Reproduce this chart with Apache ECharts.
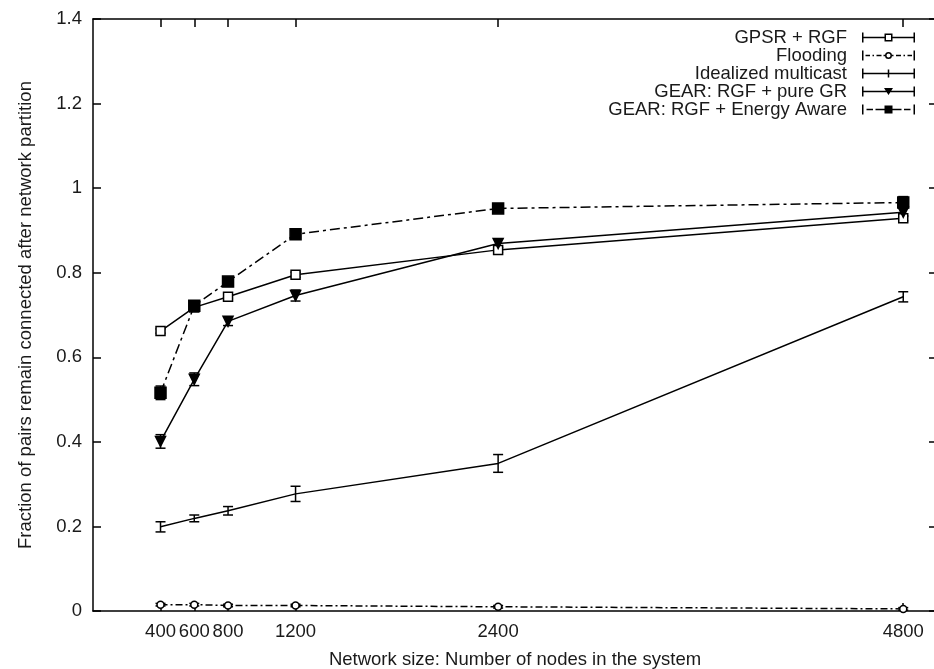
<!DOCTYPE html>
<html><head><meta charset="utf-8">
<script src="https://cdn.jsdelivr.net/npm/echarts@6/dist/echarts.min.js"></script>
<style>html,body{margin:0;padding:0;background:#fff}#c{width:934px;height:669px}</style>
</head><body><div id="c"></div>
<script>
// ---- data ----
const nodeCounts = [400, 600, 800, 1200, 2400, 4800];
const xTickValues = [400, 600, 800, 1200, 2400, 4800];
const seriesNames = ['GPSR + RGF', 'Flooding', 'Idealized multicast', 'GEAR: RGF + pure GR', 'GEAR: RGF + Energy Aware'];
const gpsrRgf        = [0.662, 0.718, 0.743, 0.795, 0.854, 0.929];
const gpsrRgfErr     = [0.005, 0.005, 0.005, 0.006, 0.006, 0.006];
const flooding       = [0.015, 0.015, 0.013, 0.013, 0.010, 0.005];
const floodingErr    = [0.003, 0.003, 0.003, 0.003, 0.003, 0.003];
const idealized      = [0.199, 0.219, 0.237, 0.277, 0.349, 0.743];
const idealizedErr   = [0.012, 0.008, 0.010, 0.018, 0.021, 0.012];
const pureGR         = [0.401, 0.548, 0.685, 0.746, 0.869, 0.943];
const pureGRErr      = [0.016, 0.015, 0.010, 0.013, 0.010, 0.010];
const energyAware    = [0.516, 0.722, 0.779, 0.891, 0.952, 0.966];
const energyAwareErr = [0.016, 0.010, 0.010, 0.008, 0.006, 0.014];
const xTitle = 'Network size: Number of nodes in the system';
const yTitle = 'Fraction of pairs remain connected after network partition';

// ---- styling helpers ----
const FONT = 'Liberation Sans, Arial, sans-serif';
const FS = 18.5;
const TXT = '#1a1a1a';

function R(x, y, w, h) { return 'M' + x + ' ' + y + 'L' + (x + w) + ' ' + y + 'L' + (x + w) + ' ' + (y + h) + 'L' + x + ' ' + (y + h) + 'Z'; }
const IW = 53, IH = 10, T = 1.5, CY = 5;
function hl(x1, x2) { return R(x1, CY - T / 2, x2 - x1, T); }
const caps = R(0, 0, T, IH) + R(IW - T, 0, T, IH);
function segs(list) { return list.map(s => hl(s[0], s[1])).join(''); }
const openSq = R(22.5, 1, 8, T) + R(22.5, 9 - T, 8, T) + R(22.5, 1, T, 8) + R(30.5 - T, 1, T, 8);
const ring = 'M30 5A3.5 3.5 0 1 1 23 5A3.5 3.5 0 1 1 30 5ZM28.5 5A2 2 0 1 0 24.5 5A2 2 0 1 0 28.5 5Z';
const icons = [
  'path://' + caps + hl(T, 22.5) + hl(30.5, IW - T) + openSq,
  'path://' + caps + segs([[3.5, 8], [10.5, 12], [14.5, 19.5], [21.5, 23]]) + ring + segs([[30, 31.5], [34, 39], [41.5, 43], [45.5, 50]]),
  'path://' + caps + hl(T, IW - T) + R(26.5 - T / 2, 1, T, 8),
  'path://' + caps + hl(T, IW - T) + 'M22 1.5L31 1.5L26.5 8.5Z',
  'path://' + caps + segs([[4.5, 11], [13.5, 22.5]]) + R(22.5, 1, 8, 8) + segs([[30.5, 39.5], [42, 48.5]])
];

function errorSeries(name, vals, errs) {
  return {
    type: 'custom', name: name + ' (error)', silent: true, z: 3,
    data: nodeCounts.map((x, i) => [x, vals[i] - errs[i], vals[i] + errs[i]]),
    encode: { x: 0, y: [1, 2] },
    renderItem: function (params, api) {
      const x = api.value(0);
      const lo = api.coord([x, api.value(1)]);
      const hi = api.coord([x, api.value(2)]);
      const w = 5;
      const st = { stroke: '#000', lineWidth: 1.5 };
      return { type: 'group', children: [
        { type: 'line', shape: { x1: lo[0], y1: lo[1], x2: hi[0], y2: hi[1] }, style: st },
        { type: 'line', shape: { x1: lo[0] - w, y1: lo[1], x2: lo[0] + w, y2: lo[1] }, style: st },
        { type: 'line', shape: { x1: hi[0] - w, y1: hi[1], x2: hi[0] + w, y2: hi[1] }, style: st }
      ] };
    }
  };
}
function pts(vals) { return nodeCounts.map((x, i) => [x, vals[i]]); }
function lineSeries(name, vals, sym, size, fill, dash, rot) {
  return {
    type: 'line', name: name, data: pts(vals), z: 4,
    symbol: sym, symbolSize: size, symbolRotate: rot || 0, showSymbol: sym !== 'none',
    lineStyle: { color: '#000', width: 1.5, type: dash },
    itemStyle: { color: fill, borderColor: '#000', borderWidth: 1.5 },
    emphasis: { disabled: true }, animation: false
  };
}

const chart = echarts.init(document.getElementById('c'), null, { renderer: 'canvas' });
const axisLine = { show: true, onZero: false, lineStyle: { color: '#000', width: 1.5 } };
const tick = (extra) => Object.assign({ show: true, inside: true, length: 8, lineStyle: { color: '#000', width: 1.5 } }, extra || {});
chart.setOption({
  backgroundColor: '#fff',
  animation: false,
  textStyle: { fontFamily: FONT },
  grid: { left: 93, top: 19, width: 844, height: 592, containLabel: false, outerBoundsMode: 'none' },
  legend: {
    orient: 'vertical', align: 'right', right: 19, top: 28, itemGap: -1, padding: 0,
    itemWidth: IW, itemHeight: IH, selectedMode: false,
    itemStyle: { color: '#000', borderWidth: 0 },
    textStyle: { fontFamily: FONT, fontSize: FS, color: TXT, padding: [0, 10, 0, 0] },
    data: seriesNames.map((n, i) => ({ name: n, icon: icons[i] }))
  },
  xAxis: [
    {
      type: 'value', position: 'bottom', min: 0, max: 5000,
      name: xTitle, nameLocation: 'middle', nameGap: 39,
      nameTextStyle: { fontFamily: FONT, fontSize: FS, color: TXT },
      axisLine: axisLine, splitLine: { show: false },
      axisTick: tick({ customValues: xTickValues }),
      axisLabel: { customValues: xTickValues, margin: 11, fontFamily: FONT, fontSize: FS, color: TXT,
                   formatter: v => String(v) }
    },
    {
      type: 'value', position: 'top', min: 0, max: 5000,
      axisLine: axisLine, splitLine: { show: false },
      axisTick: tick({ customValues: xTickValues }),
      axisLabel: { show: false, customValues: xTickValues }
    }
  ],
  yAxis: [
    {
      type: 'value', position: 'left', min: 0, max: 1.4, interval: 0.2,
      name: yTitle, nameLocation: 'middle', nameGap: 58,
      nameTextStyle: { fontFamily: FONT, fontSize: FS, color: TXT },
      axisLine: axisLine, splitLine: { show: false },
      axisTick: tick(),
      axisLabel: { margin: 11, fontFamily: FONT, fontSize: FS, color: TXT }
    },
    {
      type: 'value', position: 'right', min: 0, max: 1.4, interval: 0.2,
      axisLine: axisLine, splitLine: { show: false },
      axisTick: tick(),
      axisLabel: { show: false }
    }
  ],
  series: [
    lineSeries(seriesNames[0], gpsrRgf, 'rect', 9, '#fff', 'solid'),
    lineSeries(seriesNames[1], flooding, 'circle', 7, '#fff', [7, 3, 2, 3]),
    lineSeries(seriesNames[2], idealized, 'none', 0, '#000', 'solid'),
    lineSeries(seriesNames[3], pureGR, 'triangle', 10, '#000', 'solid', 180),
    lineSeries(seriesNames[4], energyAware, 'rect', 11, '#000', [10, 4, 3, 4]),
    errorSeries(seriesNames[0], gpsrRgf, gpsrRgfErr),
    errorSeries(seriesNames[1], flooding, floodingErr),
    errorSeries(seriesNames[2], idealized, idealizedErr),
    errorSeries(seriesNames[3], pureGR, pureGRErr),
    errorSeries(seriesNames[4], energyAware, energyAwareErr)
  ]
});
</script>
</body></html>
